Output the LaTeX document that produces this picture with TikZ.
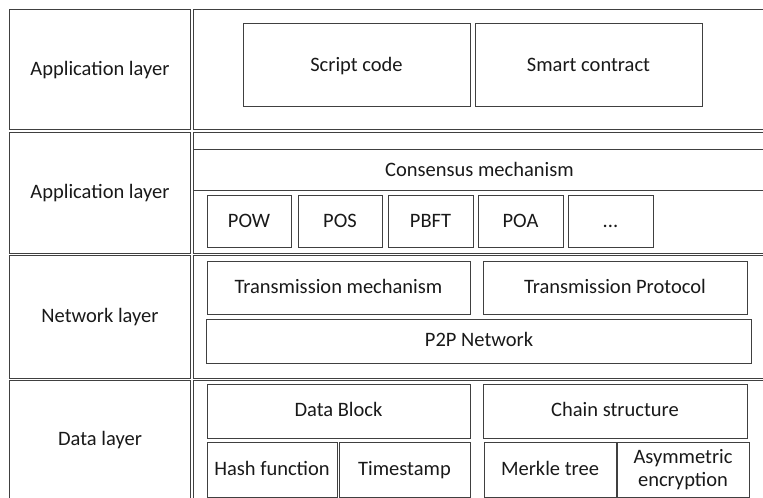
\documentclass[tikz,border=0pt]{standalone}
\usepackage{fontspec}
\setmainfont{Carlito}

\begin{document}
\begin{tikzpicture}[x=1bp, y=-1bp,
  box/.style={rectangle, draw=black!75, line width=1bp, inner sep=0pt, align=center,
    text=black!90, font=\fontsize{20.5bp}{23.5bp}\selectfont, text height=16bp, text depth=4.8bp}]
\useasboundingbox (0,0) rectangle (763,498);
\clip (0,0) rectangle (763,498);

% layer names
\node (app) at (100,70) [box, minimum width=180bp, minimum height=120bp] {Application layer};
\node (cons) at (100,193) [box, minimum width=180bp, minimum height=120bp] {Application layer};
\node (net) at (100,317) [box, minimum width=180bp, minimum height=122bp] {Network layer};
\node (data) at (100,440) [box, minimum width=180bp, minimum height=120bp] {Data layer};

% layer contents
\node (appR) at (479.5,70) [box, minimum width=571bp, minimum height=120bp] {};
\node (consR) at (479.5,193) [box, minimum width=571bp, minimum height=120bp] {};
\node (netR) at (479.5,317) [box, minimum width=571bp, minimum height=122bp] {};
\node (dataR) at (479.5,440) [box, minimum width=571bp, minimum height=120bp] {};

\node (script) at (356.5,65.5) [box, minimum width=227bp, minimum height=83bp] {Script code};
\node (smart) at (588.5,65.5) [box, minimum width=227bp, minimum height=83bp] {Smart contract};

\node (mech) at (479.5,170.5) [box, minimum width=571bp, minimum height=41bp] {Consensus mechanism};
	\node (pow) at (249,222) [box, minimum width=84bp, minimum height=52bp] {POW};
	\node (pos) at (340,222) [box, minimum width=84bp, minimum height=52bp] {POS};
	\node (pbft) at (430.5,222) [box, minimum width=85bp, minimum height=52bp] {PBFT};
	\node (poa) at (520.5,222) [box, minimum width=85bp, minimum height=52bp] {POA};
	\node (more) at (610.5,222) [box, minimum width=85bp, minimum height=52bp] {...};

\node (tmech) at (338.5,288) [box, minimum width=263bp, minimum height=52bp] {Transmission mechanism};
\node (tprot) at (615,288) [box, minimum width=264bp, minimum height=52bp] {Transmission Protocol};
\node (p2p) at (479,341) [box, minimum width=544bp, minimum height=44bp] {P2P Network};

\node (block) at (338.5,411) [box, minimum width=263bp, minimum height=54bp] {Data Block};
	\node (hash) at (272,469.5) [box, minimum width=130bp, minimum height=55bp] {Hash function};
	\node (stamp) at (404.5,469.5) [box, minimum width=131bp, minimum height=55bp] {Timestamp};
\node (chain) at (615,411) [box, minimum width=264bp, minimum height=54bp] {Chain structure};
	\node (merkle) at (550,469.5) [box, minimum width=132bp, minimum height=55bp] {Merkle tree};
	\node (asym) at (683,469.5) [box, minimum width=132bp, minimum height=55bp, text height=, text depth=] {Asymmetric\\encryption};
\end{tikzpicture}
\end{document}
